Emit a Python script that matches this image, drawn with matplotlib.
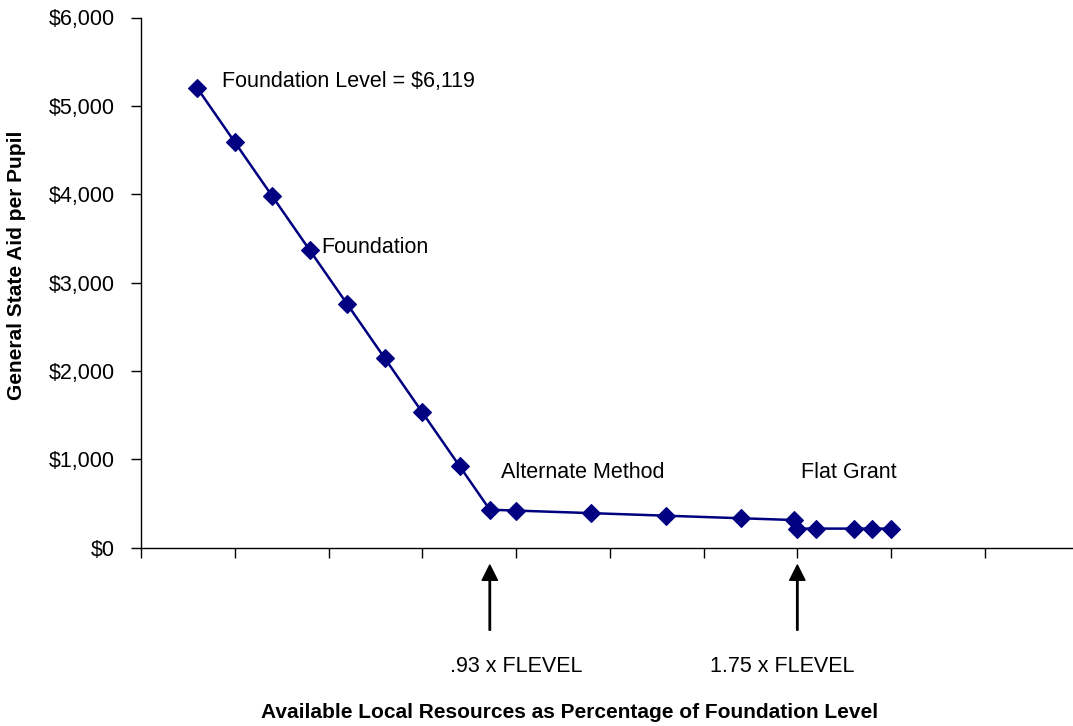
import matplotlib
matplotlib.use("Agg")
import matplotlib.pyplot as plt

# share of foundation level vs. general state aid per pupil
local_share = [0.15, 0.25, 0.35, 0.45, 0.55, 0.65, 0.75, 0.85, 0.93,
               1.0, 1.2, 1.4, 1.6, 1.74,
               1.75, 1.8, 1.9, 1.95, 2.0]
aid_per_pupil = [5201, 4589, 3977, 3365, 2754, 2142, 1530, 918, 428,
                 418, 389, 360, 331, 311,
                 214, 214, 214, 214, 214]

y_ticks = [0, 1000, 2000, 3000, 4000, 5000, 6000]
x_ticks = [0, 0.25, 0.5, 0.75, 1.0, 1.25, 1.5, 1.75, 2.0, 2.25]
arrow_x = [0.93, 1.75]
arrow_labels = [".93 x FLEVEL", "1.75 x FLEVEL"]

plt.rcParams['font.family'] = ['Liberation Sans', 'DejaVu Sans']

fig = plt.figure(figsize=(10.73, 7.26), dpi=100)
ax = fig.add_axes([141 / 1073, 178.5 / 726, 932 / 1073, 530 / 726])

ax.plot(local_share, aid_per_pupil, color='#000080', linewidth=1.8,
        marker='D', markersize=8.8, markeredgewidth=0.8, zorder=3)

ax.set_xlim(0, 2.485)
ax.set_ylim(0, 6000)
ax.set_xticks(x_ticks)
ax.set_xticklabels([])
ax.set_yticks(y_ticks)
ax.set_yticklabels(['${:,}'.format(v) for v in y_ticks], fontsize=15.5)
ax.tick_params(axis='both', direction='out', length=7, width=1, color='black')
ax.tick_params(axis='y', pad=12)
for s in ['top', 'right']:
    ax.spines[s].set_visible(False)
for s in ['left', 'bottom']:
    ax.spines[s].set_linewidth(1)
    ax.spines[s].set_color('black')

# labels inside plot
ax.text(0.215, 5270, "Foundation Level = $6,119", fontsize=15.5, va='center')
ax.text(0.48, 3400, "Foundation", fontsize=15.5, va='center')
ax.text(0.96, 850, "Alternate Method", fontsize=15.5, va='center')
ax.text(1.76, 850, "Flat Grant", fontsize=15.5, va='center')

# arrows under the axis
for xv in arrow_x:
    ax.annotate('', xy=(xv, -0.033), xytext=(xv, -0.156),
                xycoords=ax.get_xaxis_transform(),
                textcoords=ax.get_xaxis_transform(),
                annotation_clip=False,
                arrowprops=dict(facecolor='black', edgecolor='black',
                                width=1.0, headwidth=11, headlength=11, shrink=0))

fig.text(450 / 1073, 1 - 667 / 726, arrow_labels[0], fontsize=15.5, va='center')
fig.text(710 / 1073, 1 - 667 / 726, arrow_labels[1], fontsize=15.5, va='center')

fig.text(570 / 1073, 1 - 712 / 726,
         "Available Local Resources as Percentage of Foundation Level",
         fontsize=15, fontweight='bold', ha='center', va='center')
fig.text(17 / 1073, 1 - 265 / 726, "General State Aid per Pupil",
         fontsize=15, fontweight='bold', ha='center', va='center', rotation=90)

fig.savefig("out.png", dpi=100)
